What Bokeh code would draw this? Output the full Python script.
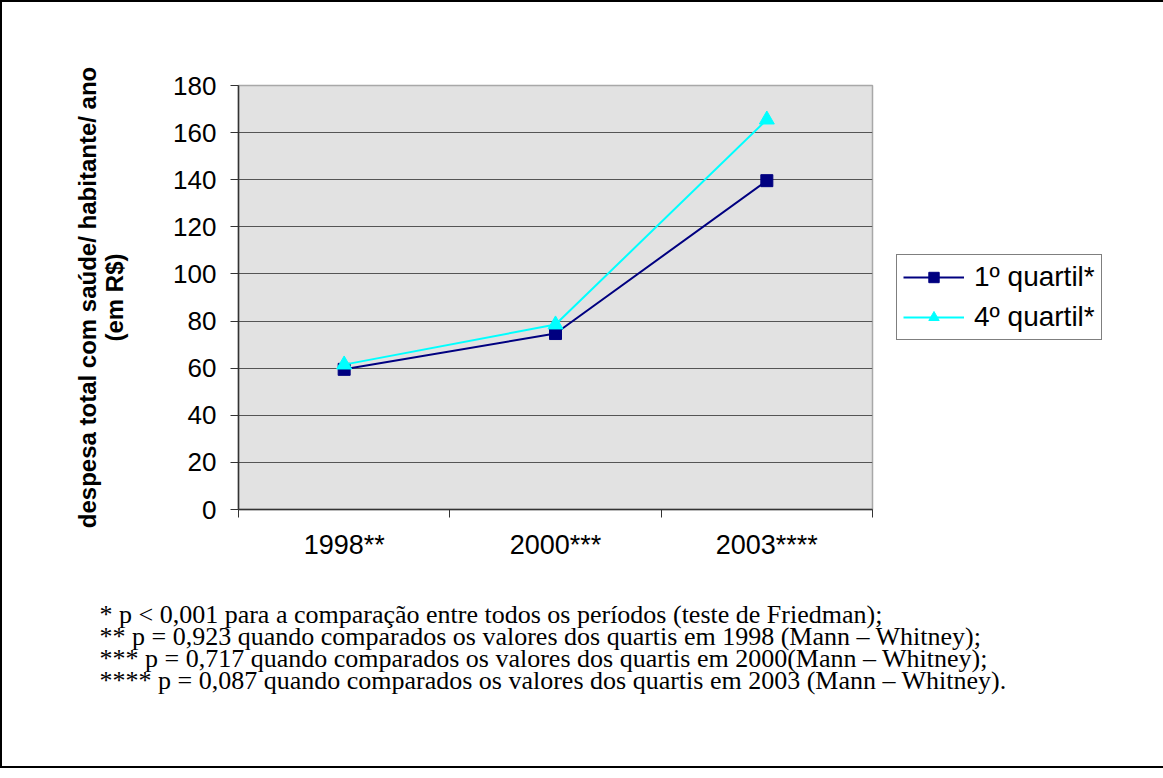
from bokeh.plotting import figure
from bokeh.models import Range1d, FixedTicker, Legend, LegendItem, Title
from bokeh.embed import file_html
from bokeh.resources import INLINE

categories = ["1998**", "2000***", "2003****"]
quartil1 = [59.5, 74.7, 139.6]
quartil4 = [61.5, 78.5, 165.5]
y_ticks = [0, 20, 40, 60, 80, 100, 120, 140, 160, 180]
y_title = "despesa total com saúde/ habitante/ ano\n(em R$)"
series_names = ["1º quartil*", "4º quartil*"]
notes = [
    " * p < 0,001 para a comparação entre todos os períodos (teste de Friedman);",
    "** p = 0,923 quando comparados os valores dos quartis em 1998 (Mann – Whitney);",
    "*** p = 0,717 quando comparados os valores dos quartis em 2000(Mann – Whitney);",
    "**** p = 0,087 quando comparados os valores dos quartis em 2003 (Mann – Whitney).",
]

xpos = [i + 0.5 for i in range(len(categories))]

p = figure(frame_width=634, frame_height=424, output_backend="svg", toolbar_location=None,
           x_range=Range1d(0, len(categories)), y_range=Range1d(0, 180),
           min_border_left=236, min_border_top=83, min_border_right=271,
           min_border_bottom=257)
p.styles = {"border": "2px solid black"}
p.background_fill_color = "#e2e2e2"
p.border_fill_color = "white"
p.outline_line_color = "#a8a8a8"
p.outline_line_width = 1.5

# x axis: labels at category centres, ticks at category boundaries
p.xaxis.ticker = FixedTicker(ticks=xpos, minor_ticks=list(range(len(categories) + 1)))
p.xaxis.major_label_overrides = {x: c for x, c in zip(xpos, categories)}
p.xaxis.major_tick_out = 0
p.xaxis.major_tick_in = 0
p.xaxis.minor_tick_out = 8
p.xaxis.minor_tick_in = 0
p.xaxis.minor_tick_line_color = "#333333"
p.xaxis.axis_line_color = "#333333"
p.xaxis.axis_line_width = 1.5
p.xaxis.major_label_standoff = 12
p.xaxis.major_label_text_font = "Liberation Sans"
p.xaxis.major_label_text_font_size = "27px"
p.xaxis.major_label_text_color = "black"

# y axis
p.yaxis.ticker = FixedTicker(ticks=y_ticks)
p.yaxis.major_tick_out = 8
p.yaxis.major_tick_in = 0
p.yaxis.minor_tick_out = 0
p.yaxis.minor_tick_in = 0
p.yaxis.major_tick_line_color = "#333333"
p.yaxis.axis_line_color = "#333333"
p.yaxis.axis_line_width = 1.5
p.yaxis.major_label_standoff = 14
p.yaxis.major_label_text_font = "Liberation Sans"
p.yaxis.major_label_text_font_size = "26px"
p.yaxis.major_label_text_color = "black"
p.yaxis.axis_label = y_title
p.yaxis.axis_label_text_font = "Liberation Sans"
p.yaxis.axis_label_text_font_style = "bold"
p.yaxis.axis_label_text_font_size = "24px"
p.yaxis.axis_label_text_color = "black"
p.yaxis.axis_label_text_line_height = 1.0
p.yaxis.axis_label_standoff = 42

p.xgrid.grid_line_color = None
p.ygrid.ticker = FixedTicker(ticks=y_ticks)
p.ygrid.grid_line_color = "#555555"
p.ygrid.grid_line_width = 1

# series
l1 = p.line(xpos, quartil1, line_color="#000080", line_width=2)
s1 = p.scatter(xpos, quartil1, marker="square", size=12, fill_color="#000080", line_color="#000080")
l4 = p.line(xpos, quartil4, line_color="#00FFFF", line_width=2)
s4 = p.scatter(xpos, quartil4, marker="triangle", size=15, fill_color="#00FFFF", line_color="#00FFFF")

legend = Legend(items=[LegendItem(label=series_names[0], renderers=[l1, s1]),
                       LegendItem(label=series_names[1], renderers=[l4, s4])],
                location="left")
legend.border_line_color = "black"
legend.border_line_width = 1
legend.background_fill_color = "white"
legend.background_fill_alpha = 1
legend.label_text_font = "Liberation Sans"
legend.label_text_font_size = "28px"
legend.label_text_color = "black"
legend.glyph_width = 61
legend.glyph_height = 26
legend.label_height = 26
legend.label_standoff = 10
legend.spacing = 8
legend.padding = 6
legend.margin = 24
p.add_layout(legend, "right")

# footnotes below the chart
notes_title = Title(text="\n".join(notes), align="left", offset=-139, standoff=72,
                    text_font="Liberation Serif", text_font_size="26px",
                    text_font_style="normal", text_color="black",
                    text_line_height=0.76)
p.add_layout(notes_title, "below")

open("out.html", "w").write(file_html(p, INLINE))
